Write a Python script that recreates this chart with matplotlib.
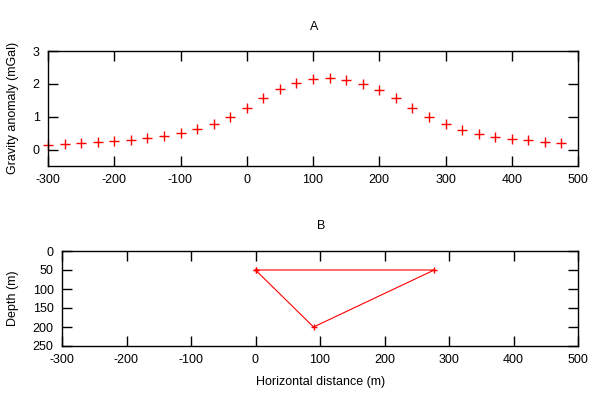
import numpy as np
import matplotlib
matplotlib.use('Agg')
import matplotlib.pyplot as plt

plt.rcParams['font.family'] = ['Liberation Sans', 'DejaVu Sans']
plt.rcParams['font.size'] = 9
plt.rcParams['axes.unicode_minus'] = False

# Datos del perfil de gravedad (panel A)
distancia = np.arange(-300, 476, 25)
anomalia = [0.15, 0.17, 0.19, 0.23, 0.27, 0.30, 0.36, 0.42, 0.50, 0.63,
            0.78, 0.99, 1.27, 1.57, 1.85, 2.04, 2.16, 2.18, 2.12, 2.01,
            1.82, 1.57, 1.27, 0.99, 0.78, 0.61, 0.48, 0.39, 0.32, 0.30,
            0.23, 0.20]

# Vertices del cuerpo (panel B)
cuerpo_x = [0, 277, 90, 0]
cuerpo_z = [50, 50, 200, 50]

fig = plt.figure(figsize=(6, 4), dpi=100)

ax1 = fig.add_axes([48/600, 1-166/400, 530/600, 115/400])
ax1.plot(distancia, anomalia, '+', color='red', markersize=6.5, markeredgewidth=1, clip_on=False)
ax1.set_xlim(-300, 500)
ax1.set_ylim(-0.5, 3)
ax1.set_yticks([0, 1, 2, 3])
ax1.set_xticks(np.arange(-300, 501, 100))

ax2 = fig.add_axes([62/600, 1-346/400, 516/600, 95/400])
ax2.plot(cuerpo_x, cuerpo_z, '-+', color='red', linewidth=0.8, markersize=5, markeredgewidth=1)
ax2.set_xlim(-300, 500)
ax2.set_ylim(250, 0)
ax2.set_yticks(np.arange(0, 251, 50))
ax2.set_xticks(np.arange(-300, 501, 100))

for ax in (ax1, ax2):
    ax.tick_params(direction='in', length=7, width=1, top=True, right=True, pad=6)
    for s in ax.spines.values():
        s.set_linewidth(1)

fig.text(314/600, 1-27/400, 'A', ha='center', va='center')
fig.text(321/600, 1-226/400, 'B', ha='center', va='center')
fig.text(13/600, 1-108/400, 'Gravity anomaly (mGal)', rotation=90, ha='center', va='center')
fig.text(13/600, 1-298/400, 'Depth (m)', rotation=90, ha='center', va='center')
fig.text(321/600, 1-382/400, 'Horizontal distance (m)', ha='center', va='center')

plt.savefig('out.png', dpi=100)
